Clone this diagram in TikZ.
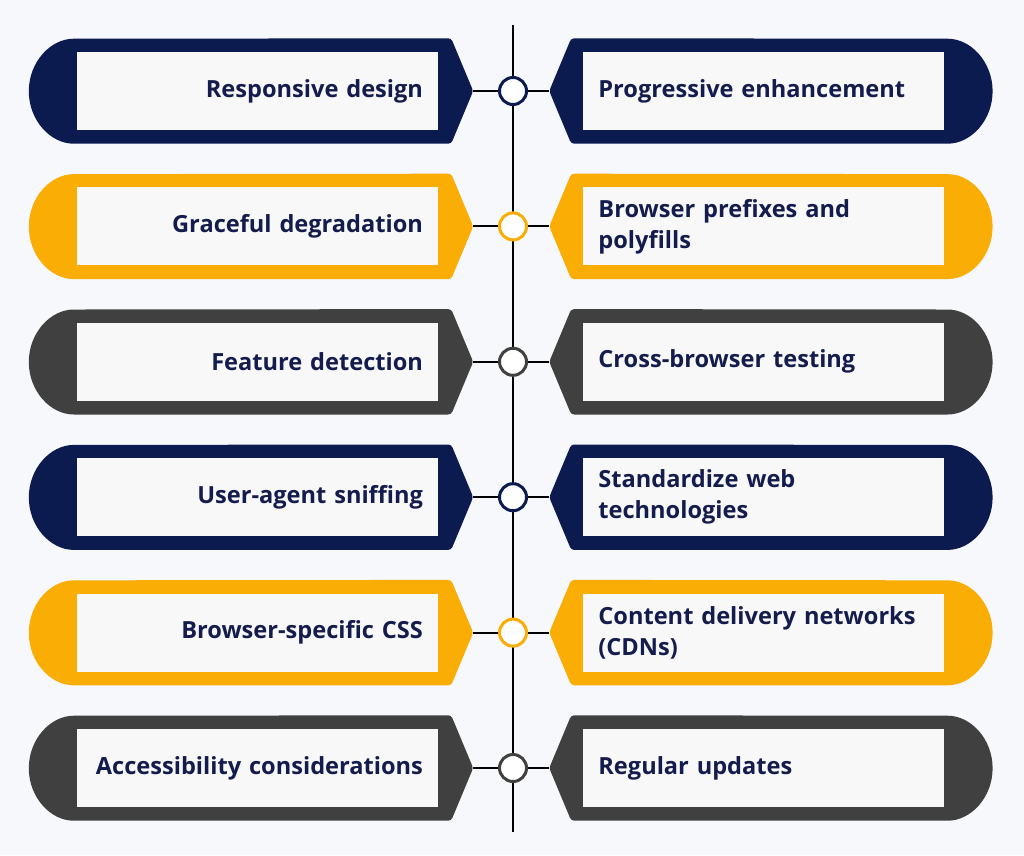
\documentclass[tikz,border=0pt]{standalone}
\usepackage{fontspec}
\setmainfont{Open Sans}
\usetikzlibrary{positioning,backgrounds}
\definecolor{navy}{HTML}{0B1A4F}
\definecolor{amber}{HTML}{F9AD05}
\definecolor{charcoal}{HTML}{404040}
\definecolor{pagebg}{HTML}{F7F8FC}
\definecolor{cardbg}{HTML}{F8F8F9}
\definecolor{ink}{HTML}{141C4D}
% coloured shell round a card, pointing at the spine
\newcommand{\leftshell}[2]{%
  \fill[#2, rounded corners=3pt] ([xshift=13pt,yshift=13.5pt]#1.north east) -- ([xshift=35pt]#1.east)
    -- ([xshift=13pt,yshift=-13.5pt]#1.south east) -- ([yshift=-13.5pt]#1.south west)
    arc[start angle=270, end angle=90, x radius=48pt, y radius=52.5pt] -- cycle;}
\newcommand{\rightshell}[2]{%
  \fill[#2, rounded corners=3pt] ([xshift=-12pt,yshift=13.5pt]#1.north west) -- ([xshift=-34pt]#1.west)
    -- ([xshift=-12pt,yshift=-13.5pt]#1.south west) -- ([yshift=-13.5pt]#1.south east)
    arc[start angle=-90, end angle=90, x radius=48pt, y radius=52.5pt] -- cycle;}

\begin{document}
\begin{tikzpicture}[
  x=1pt, y=-1pt,
  node distance=57pt and 145pt,
  card/.style={fill=cardbg, minimum width=361pt, minimum height=78pt, text width=331pt,
               inner xsep=15pt, text=ink, font=\bfseries\fontsize{23.6}{31}\selectfont},
  leftcard/.style={card, align=right},
  rightcard/.style={card, align=left},
  hub/.style={circle, line width=3pt, fill=white, minimum size=27pt, inner sep=0pt},
  link/.style={line width=2pt, black}
]
\useasboundingbox (0,0) rectangle (1024,855);
\coordinate (top) at (513,25);
\coordinate (bottom) at (513,832);

\node[leftcard] (resp) at (257.5,91) {Responsive design};
\node[rightcard, right=of resp] (prog) {Progressive enhancement};
\node[leftcard, below=of resp] (grace) {Graceful degradation};
\node[rightcard, right=of grace] (prefix) {Browser prefixes and\\polyfills};
\node[leftcard, below=of grace] (detect) {Feature detection};
\node[rightcard, right=of detect] (crossb) {Cross-browser testing};
\node[leftcard, below=of detect] (sniff) {User-agent sniffing};
\node[rightcard, right=of sniff] (standard) {Standardize web\\technologies};
\node[leftcard, below=of sniff] (css) {Browser-specific CSS};
\node[rightcard, right=of css] (cdn) {Content delivery networks\\(CDNs)};
\node[leftcard, below=of css] (access) {Accessibility considerations};
\node[rightcard, right=of access] (update) {Regular updates};

\draw[link] (top) -- (bottom);

\node[hub, draw=navy] (h1) at (top |- resp) {};
\node[hub, draw=amber] (h2) at (top |- grace) {};
\node[hub, draw=charcoal] (h3) at (top |- detect) {};
\node[hub, draw=navy] (h4) at (top |- sniff) {};
\node[hub, draw=amber] (h5) at (top |- css) {};
\node[hub, draw=charcoal] (h6) at (top |- access) {};

\draw[link] ([xshift=35pt]resp.east) -- (h1) -- ([xshift=-34pt]prog.west);
\draw[link] ([xshift=35pt]grace.east) -- (h2) -- ([xshift=-34pt]prefix.west);
\draw[link] ([xshift=35pt]detect.east) -- (h3) -- ([xshift=-34pt]crossb.west);
\draw[link] ([xshift=35pt]sniff.east) -- (h4) -- ([xshift=-34pt]standard.west);
\draw[link] ([xshift=35pt]css.east) -- (h5) -- ([xshift=-34pt]cdn.west);
\draw[link] ([xshift=35pt]access.east) -- (h6) -- ([xshift=-34pt]update.west);

\begin{scope}[on background layer]
  \fill[pagebg] (0,0) rectangle (1024,855);
  \leftshell{resp}{navy}     \rightshell{prog}{navy}
  \leftshell{grace}{amber}   \rightshell{prefix}{amber}
  \leftshell{detect}{charcoal} \rightshell{crossb}{charcoal}
  \leftshell{sniff}{navy}    \rightshell{standard}{navy}
  \leftshell{css}{amber}     \rightshell{cdn}{amber}
  \leftshell{access}{charcoal} \rightshell{update}{charcoal}
\end{scope}
\end{tikzpicture}
\end{document}
